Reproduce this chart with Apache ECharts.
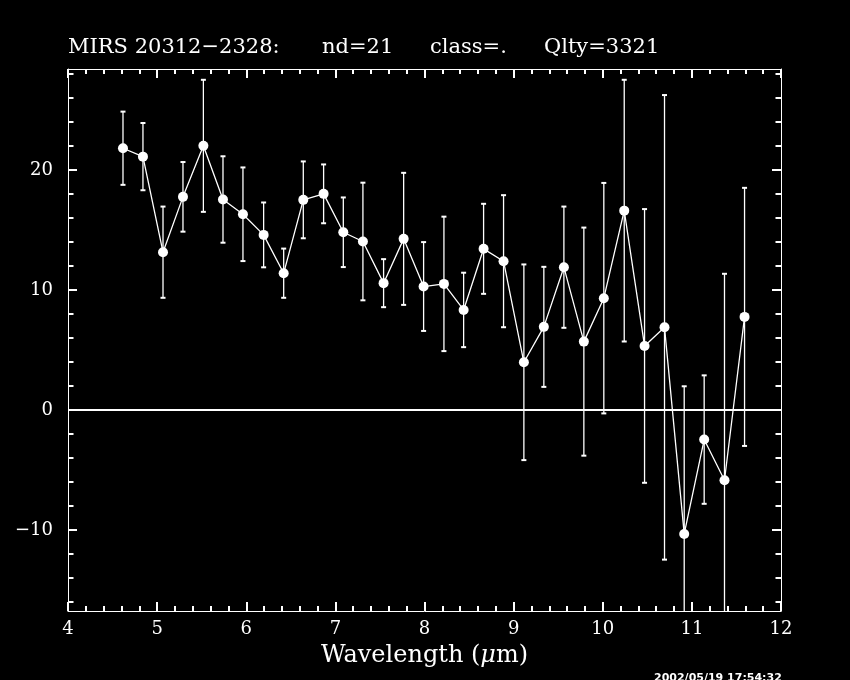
<!DOCTYPE html>
<html>
<head>
<meta charset="utf-8">
<script src="https://cdn.jsdelivr.net/npm/echarts@6/dist/echarts.min.js"></script>
<style>
html,body{margin:0;padding:0;background:#000;}
#chart{width:850px;height:680px;}
</style>
</head>
<body>
<div id="chart"></div>
<script>
// ---- data ----
const wavelength = [4.617,4.841,5.066,5.290,5.519,5.739,5.963,6.195,6.420,6.640,6.868,7.089,7.309,7.541,7.766,7.990,8.218,8.439,8.663,8.887,9.115,9.339,9.564,9.788,10.012,10.241,10.469,10.693,10.914,11.138,11.366,11.591];
const flux = [21.8,21.1,13.14,17.75,22.0,17.53,16.3,14.58,11.39,17.5,18.0,14.8,14.03,10.56,14.25,10.28,10.5,8.33,13.42,12.39,3.97,6.92,11.89,5.69,9.31,16.6,5.33,6.88,-10.33,-2.47,-5.86,7.75];
const fluxErr = [3.05,2.8,3.8,2.9,5.5,3.6,3.9,2.7,2.05,3.2,2.45,2.9,4.9,2.0,5.5,3.7,5.6,3.1,3.75,5.5,8.15,5.0,5.05,9.5,9.6,10.9,11.4,19.35,12.3,5.35,17.2,10.75];
const xTicks = [4,5,6,7,8,9,10,11,12];
const yMajor = [-10,0,10,20];
const yMinor = [-16,-14,-12,-8,-6,-4,-2,2,4,6,8,12,14,16,18,22,24,26,28];
const titleParts = ['MIRS 20312\u22122328:', 'nd=21', 'class=.', 'Qlty=3321'];
const xName = 'Wavelength';
const stamp = '2002/05/19 17:54:32';

const X_MIN = 4, X_MAX = 12, Y_MIN = -16.75, Y_MAX = 28.4;

const lineData = wavelength.map((x, i) => [x, flux[i]]);
const errData = wavelength.map((x, i) => [x, flux[i] - fluxErr[i], flux[i] + fluxErr[i]]);

const W = '#ffffff';
const serif = 'DejaVu Serif';

function yAxisDef(pos, values, len, width, showLabel, showLine) {
  return {
    type: 'value', position: pos, min: Y_MIN, max: Y_MAX,
    axisLine: { show: showLine, onZero: false, lineStyle: { color: W, width: 1 } },
    axisTick: { show: true, inside: true, length: len, customValues: values, lineStyle: { color: W, width: width } },
    axisLabel: {
      show: showLabel, customValues: values, margin: 15, color: W,
      fontFamily: serif, fontSize: 18,
      formatter: v => v < 0 ? '\u2212' + Math.abs(v) : String(v)
    },
    splitLine: { show: false }
  };
}
function xAxisDef(pos, showLabel) {
  return {
    type: 'value', position: pos, min: X_MIN, max: X_MAX, interval: 1,
    axisLine: { show: true, onZero: false, lineStyle: { color: W, width: 1 } },
    axisTick: { show: true, inside: true, length: 9, lineStyle: { color: W, width: 2 } },
    minorTick: { show: true, splitNumber: 5, length: 5, lineStyle: { color: W, width: 2 } },
    axisLabel: { show: showLabel, margin: 9, color: W, fontFamily: serif, fontSize: 18 },
    splitLine: { show: false },
    name: showLabel ? xName + ' ({i|\u03bc}m)' : '',
    nameLocation: 'middle', nameGap: 33,
    nameTextStyle: { color: W, fontFamily: serif, fontSize: 24, rich: { i: { fontFamily: serif, fontSize: 24, fontStyle: 'italic', color: W } } }
  };
}

const chart = echarts.init(document.getElementById('chart'), null, { renderer: 'canvas' });
const titleLefts = [68, 322, 430, 544];
chart.setOption({
  backgroundColor: '#000',
  animation: false,
  title: titleParts.map((t, i) => ({
    text: t, left: titleLefts[i], top: 37, padding: 0,
    textStyle: { color: W, fontFamily: serif, fontSize: 21, fontWeight: 'normal' }
  })),
  grid: { left: 68, top: 69, width: 713, height: 542, containLabel: false },
  xAxis: [xAxisDef('bottom', true), xAxisDef('top', false)],
  yAxis: [
    yAxisDef('left', yMajor, 9, 2, true, true),
    yAxisDef('left', yMinor, 5.5, 2, false, false),
    yAxisDef('right', yMajor, 9, 2, false, true),
    yAxisDef('right', yMinor, 5.5, 2, false, false)
  ],
  graphic: [{
    type: 'text', left: 654, top: 673,
    style: { text: stamp, fill: W, font: 'bold 11px "DejaVu Sans"' }
  }],
  series: [
    {
      type: 'custom', xAxisIndex: 0, yAxisIndex: 0, clip: true,
      data: errData,
      encode: { x: 0, y: [1, 2] },
      renderItem: function (params, api) {
        const x = api.value(0);
        const lo = api.coord([x, api.value(1)]);
        const hi = api.coord([x, api.value(2)]);
        const cw = 2.5;
        const st = { stroke: W, lineWidth: 1.3 };
        return {
          type: 'group',
          children: [
            { type: 'line', shape: { x1: lo[0], y1: lo[1], x2: hi[0], y2: hi[1] }, style: st },
            { type: 'line', shape: { x1: hi[0] - cw, y1: hi[1], x2: hi[0] + cw, y2: hi[1] }, style: { stroke: W, lineWidth: 2 } },
            { type: 'line', shape: { x1: lo[0] - cw, y1: lo[1], x2: lo[0] + cw, y2: lo[1] }, style: { stroke: W, lineWidth: 2 } }
          ]
        };
      },
      z: 2
    },
    {
      type: 'line', xAxisIndex: 0, yAxisIndex: 0,
      data: lineData,
      symbol: 'circle', symbolSize: 10,
      itemStyle: { color: W },
      lineStyle: { color: W, width: 1.3 },
      markLine: {
        silent: true, symbol: 'none', label: { show: false },
        lineStyle: { color: W, width: 2, type: 'solid' },
        data: [{ yAxis: 0 }]
      },
      z: 3
    }
  ]
});
</script>
</body>
</html>
